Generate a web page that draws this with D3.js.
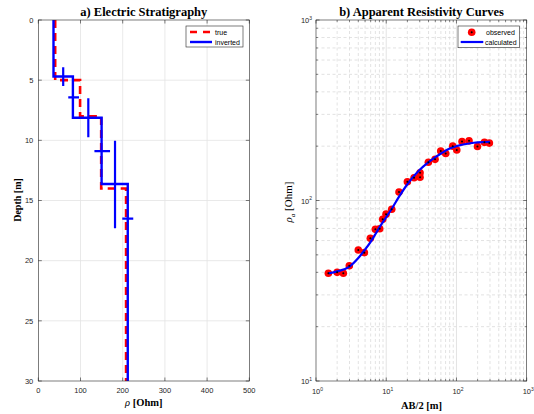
<!DOCTYPE html>
<html><head><meta charset="utf-8">
<script src="https://cdn.jsdelivr.net/npm/d3@7"></script>
<style>body{margin:0;background:#fff}</style></head>
<body><svg id="c" width="534" height="414"></svg>
<script>
// ---- data: left panel ----
const trueDepth = [0, 5, 8, 14, 30];
const trueRho = [40, 99, 149, 208];
const invDepth = [0, 4.7, 8.12, 13.63, 30];
const invRho = [36, 82, 150, 212];
const depthErrBars = [
  {rho: 59, d0: 3.93, d1: 5.49},
  {rho: 118.5, d0: 6.5, d1: 9.75},
  {rho: 181.8, d0: 10.03, d1: 17.3}
];
const rhoErrBars = [
  {depth: 6.43, r0: 71, r1: 96.5},
  {depth: 10.9, r0: 133, r1: 170},
  {depth: 16.5, r0: 199, r1: 225}
];
const rhoTicks = [0, 100, 200, 300, 400, 500];
const depthTicks = [0, 5, 10, 15, 20, 25, 30];

// ---- data: right panel ----
const obsAB2 = [1.5, 2.0, 2.45, 2.98, 4.0, 4.88, 5.94, 7.0, 8.07, 8.9, 9.94, 11.97, 15.2, 20.0,
  24.9, 30.3, 30.3, 39.8, 49.6, 59.7, 70.3, 88.5, 101, 120, 151, 199, 250, 294];
const obsRho = [39.5, 40.0, 39.5, 43.5, 53.2, 51.4, 61.7, 69.2, 69.8, 78.7, 84.0, 89.4, 111.5, 127,
  133.7, 142.6, 134.6, 163, 169, 188, 182, 200, 190.5, 212, 214, 199, 210, 208];
const calcAB2 = [1.5, 2, 3, 4, 5, 6, 7, 8, 10, 12, 15, 20, 25, 30, 40, 50, 60, 80, 100, 150, 200, 300];
const calcRho = [39.5, 40.5, 43, 48, 53.5, 59, 65, 71, 81, 90, 104, 123, 137, 148, 163, 174, 182, 194, 200, 207, 210, 211];
const logTicksX = [1, 10, 100, 1000];
const logTicksY = [10, 100, 1000];

const svg = d3.select("#c");
const axCol = "#262626";
const tickFont = "Liberation Sans, Arial, sans-serif";
const serif = "Liberation Serif, Times New Roman, serif";

// ================= LEFT PANEL =================
const L = {x0: 38.3, x1: 249.3, y0: 20, y1: 381};
const xL = d3.scaleLinear().domain([0, 500]).range([L.x0, L.x1]);
const yL = d3.scaleLinear().domain([0, 30]).range([L.y0, L.y1]);

const gL = svg.append("g");
// grid
gL.selectAll(".gx").data(rhoTicks.slice(1, -1)).join("line")
  .attr("x1", d => xL(d)).attr("x2", d => xL(d)).attr("y1", L.y0).attr("y2", L.y1)
  .attr("stroke", "#e3e3e3").attr("stroke-width", 0.8);
gL.selectAll(".gy").data(depthTicks.slice(1, -1)).join("line")
  .attr("y1", d => yL(d)).attr("y2", d => yL(d)).attr("x1", L.x0).attr("x2", L.x1)
  .attr("stroke", "#e3e3e3").attr("stroke-width", 0.8);

svg.append("defs").html(`<clipPath id="cl"><rect x="${L.x0}" y="${L.y0}" width="${L.x1-L.x0}" height="${L.y1-L.y0}"/></clipPath>`);

function stepPts(depths, rhos) {
  const p = [];
  rhos.forEach((r, i) => { p.push([r, depths[i]]); p.push([r, depths[i + 1]]); });
  return p;
}
const lineL = d3.line().x(d => xL(d[0])).y(d => yL(d[1]));
const gD = gL.append("g").attr("clip-path", "url(#cl)");
gD.append("path").attr("d", lineL(stepPts(trueDepth, trueRho)))
  .attr("fill", "none").attr("stroke", "#ff0000").attr("stroke-width", 2.6)
  .attr("stroke-dasharray", "8,5");
gD.append("path").attr("d", lineL(stepPts(invDepth, invRho)))
  .attr("fill", "none").attr("stroke", "#0000ff").attr("stroke-width", 2.4);
gD.selectAll(".ed").data(depthErrBars).join("line")
  .attr("x1", d => xL(d.rho)).attr("x2", d => xL(d.rho))
  .attr("y1", d => yL(d.d0)).attr("y2", d => yL(d.d1))
  .attr("stroke", "#0000ff").attr("stroke-width", 2.2);
gD.selectAll(".er").data(rhoErrBars).join("line")
  .attr("x1", d => xL(d.r0)).attr("x2", d => xL(d.r1))
  .attr("y1", d => yL(d.depth)).attr("y2", d => yL(d.depth))
  .attr("stroke", "#0000ff").attr("stroke-width", 2.2);

// box + ticks
gL.append("rect").attr("x", L.x0).attr("y", L.y0).attr("width", L.x1 - L.x0).attr("height", L.y1 - L.y0)
  .attr("fill", "none").attr("stroke", axCol).attr("stroke-width", 0.6);
const tk = 3.5;
rhoTicks.forEach(t => {
  gL.append("line").attr("x1", xL(t)).attr("x2", xL(t)).attr("y1", L.y1).attr("y2", L.y1 - tk).attr("stroke", axCol).attr("stroke-width", 0.6);
  gL.append("line").attr("x1", xL(t)).attr("x2", xL(t)).attr("y1", L.y0).attr("y2", L.y0 + tk).attr("stroke", axCol).attr("stroke-width", 0.6);
  gL.append("text").attr("x", xL(t)).attr("y", L.y1 + 12).attr("text-anchor", "middle")
    .attr("font-family", tickFont).attr("font-size", 7.5).attr("fill", axCol).text(t);
});
depthTicks.forEach(t => {
  gL.append("line").attr("x1", L.x0).attr("x2", L.x0 + tk).attr("y1", yL(t)).attr("y2", yL(t)).attr("stroke", axCol).attr("stroke-width", 0.6);
  gL.append("line").attr("x1", L.x1).attr("x2", L.x1 - tk).attr("y1", yL(t)).attr("y2", yL(t)).attr("stroke", axCol).attr("stroke-width", 0.6);
  gL.append("text").attr("x", L.x0 - 5).attr("y", yL(t) + 2.7).attr("text-anchor", "end")
    .attr("font-family", tickFont).attr("font-size", 7.5).attr("fill", axCol).text(t);
});
// title & labels
svg.append("text").attr("x", 143.8).attr("y", 16).attr("text-anchor", "middle")
  .attr("font-family", serif).attr("font-weight", "bold").attr("font-size", 12.5).attr("fill", "#000")
  .text("a) Electric Stratigraphy");
svg.append("text").attr("transform", "translate(21,200) rotate(-90)").attr("text-anchor", "middle")
  .attr("font-family", serif).attr("font-weight", "bold").attr("font-size", 10).attr("fill", "#000")
  .text("Depth [m]");
const xlabL = svg.append("text").attr("x", 143.8).attr("y", 406).attr("text-anchor", "middle")
  .attr("font-family", serif).attr("font-weight", "bold").attr("font-size", 10.5).attr("fill", "#000");
xlabL.append("tspan").attr("font-style", "italic").attr("font-weight", "normal").text("ρ");
xlabL.append("tspan").text(" [Ohm]");

// legend left
const lgL = svg.append("g");
lgL.append("rect").attr("x", 186).attr("y", 26).attr("width", 57).attr("height", 21)
  .attr("fill", "#fff").attr("stroke", axCol).attr("stroke-width", 0.6);
lgL.append("line").attr("x1", 190).attr("x2", 212).attr("y1", 32).attr("y2", 32)
  .attr("stroke", "#ff0000").attr("stroke-width", 2.6).attr("stroke-dasharray", "7,6");
lgL.append("line").attr("x1", 190).attr("x2", 212).attr("y1", 42).attr("y2", 42)
  .attr("stroke", "#0000ff").attr("stroke-width", 2.4);
lgL.append("text").attr("x", 215).attr("y", 34.5).attr("font-family", tickFont).attr("font-size", 7)
  .attr("fill", "#000").text("true");
lgL.append("text").attr("x", 215).attr("y", 44.5).attr("font-family", tickFont).attr("font-size", 7)
  .attr("fill", "#000").text("inverted");

// ================= RIGHT PANEL =================
const R = {x0: 316, x1: 526.7, y0: 20, y1: 381};
const xR = d3.scaleLog().domain([1, 1000]).range([R.x0, R.x1]);
const yR = d3.scaleLog().domain([10, 1000]).range([R.y1, R.y0]);
const gR = svg.append("g");

const minorX = [], minorY = [];
[1, 10, 100].forEach(b => { for (let k = 2; k <= 9; k++) minorX.push(b * k); });
[10, 100].forEach(b => { for (let k = 2; k <= 9; k++) minorY.push(b * k); });

gR.selectAll(".mx").data(minorX).join("line")
  .attr("x1", d => xR(d)).attr("x2", d => xR(d)).attr("y1", R.y0).attr("y2", R.y1)
  .attr("stroke", "#d6d6d6").attr("stroke-width", 0.7).attr("stroke-dasharray", "3,2.5");
gR.selectAll(".my").data(minorY).join("line")
  .attr("y1", d => yR(d)).attr("y2", d => yR(d)).attr("x1", R.x0).attr("x2", R.x1)
  .attr("stroke", "#d6d6d6").attr("stroke-width", 0.7).attr("stroke-dasharray", "3,2.5");
gR.selectAll(".Mx").data(logTicksX.slice(1, -1)).join("line")
  .attr("x1", d => xR(d)).attr("x2", d => xR(d)).attr("y1", R.y0).attr("y2", R.y1)
  .attr("stroke", "#dcdcdc").attr("stroke-width", 0.8);
gR.selectAll(".My").data(logTicksY.slice(1, -1)).join("line")
  .attr("y1", d => yR(d)).attr("y2", d => yR(d)).attr("x1", R.x0).attr("x2", R.x1)
  .attr("stroke", "#dcdcdc").attr("stroke-width", 0.8);

// calculated curve
const lineR = d3.line().x((d, i) => xR(calcAB2[i])).y((d, i) => yR(calcRho[i])).curve(d3.curveMonotoneX);
// observed markers
const obs = obsAB2.map((a, i) => ({a, r: obsRho[i]}));
gR.selectAll(".o").data(obs).join("circle")
  .attr("cx", d => xR(d.a)).attr("cy", d => yR(d.r)).attr("r", 3.8).attr("fill", "#ff0000");
gR.append("path").attr("d", lineR(calcAB2)).attr("fill", "none").attr("stroke", "#0000ff").attr("stroke-width", 2.2);
gR.selectAll(".od").data(obs).join("circle")
  .attr("cx", d => xR(d.a)).attr("cy", d => yR(d.r)).attr("r", 1).attr("fill", "#000");

gR.append("rect").attr("x", R.x0).attr("y", R.y0).attr("width", R.x1 - R.x0).attr("height", R.y1 - R.y0)
  .attr("fill", "none").attr("stroke", axCol).attr("stroke-width", 0.6);
minorX.forEach(t => {
  gR.append("line").attr("x1", xR(t)).attr("x2", xR(t)).attr("y1", R.y1).attr("y2", R.y1 - 2).attr("stroke", axCol).attr("stroke-width", 0.5);
  gR.append("line").attr("x1", xR(t)).attr("x2", xR(t)).attr("y1", R.y0).attr("y2", R.y0 + 2).attr("stroke", axCol).attr("stroke-width", 0.5);
});
minorY.forEach(t => {
  gR.append("line").attr("x1", R.x0).attr("x2", R.x0 + 2).attr("y1", yR(t)).attr("y2", yR(t)).attr("stroke", axCol).attr("stroke-width", 0.5);
  gR.append("line").attr("x1", R.x1).attr("x2", R.x1 - 2).attr("y1", yR(t)).attr("y2", yR(t)).attr("stroke", axCol).attr("stroke-width", 0.5);
});
function powLabel(g, x, y, e, anchor) {
  const t = g.append("text").attr("x", x).attr("y", y).attr("text-anchor", anchor)
    .attr("font-family", tickFont).attr("font-size", 7.5).attr("fill", axCol);
  t.append("tspan").text("10");
  t.append("tspan").attr("font-size", 5).attr("dy", -3.5).text(e);
}
logTicksX.forEach(t => {
  gR.append("line").attr("x1", xR(t)).attr("x2", xR(t)).attr("y1", R.y1).attr("y2", R.y1 - tk).attr("stroke", axCol).attr("stroke-width", 0.6);
  gR.append("line").attr("x1", xR(t)).attr("x2", xR(t)).attr("y1", R.y0).attr("y2", R.y0 + tk).attr("stroke", axCol).attr("stroke-width", 0.6);
  powLabel(gR, xR(t) + 1.5, R.y1 + 13, Math.round(Math.log10(t)), "middle");
});
logTicksY.forEach(t => {
  gR.append("line").attr("x1", R.x0).attr("x2", R.x0 + tk).attr("y1", yR(t)).attr("y2", yR(t)).attr("stroke", axCol).attr("stroke-width", 0.6);
  gR.append("line").attr("x1", R.x1).attr("x2", R.x1 - tk).attr("y1", yR(t)).attr("y2", yR(t)).attr("stroke", axCol).attr("stroke-width", 0.6);
  powLabel(gR, R.x0 - 4, yR(t) + 3, Math.round(Math.log10(t)), "end");
});

svg.append("text").attr("x", 421.5).attr("y", 16).attr("text-anchor", "middle")
  .attr("font-family", serif).attr("font-weight", "bold").attr("font-size", 12.5).attr("fill", "#000")
  .text("b) Apparent Resistivity Curves");
svg.append("text").attr("x", 421.5).attr("y", 409).attr("text-anchor", "middle")
  .attr("font-family", serif).attr("font-weight", "bold").attr("font-size", 10.5).attr("fill", "#000")
  .text("AB/2 [m]");
const ylR = svg.append("text").attr("transform", "translate(292,202) rotate(-90)").attr("text-anchor", "middle")
  .attr("font-family", serif).attr("font-size", 11).attr("fill", "#000");
ylR.append("tspan").attr("font-style", "italic").text("ρ");
ylR.append("tspan").attr("font-size", 7).attr("font-style", "italic").attr("dy", 2.5).text("a");
ylR.append("tspan").attr("dy", -2.5).text(" [Ohm]");

// legend right
const lgR = svg.append("g");
lgR.append("rect").attr("x", 458).attr("y", 26).attr("width", 61.3).attr("height", 21.7)
  .attr("fill", "#fff").attr("stroke", axCol).attr("stroke-width", 0.6);
lgR.append("circle").attr("cx", 471.7).attr("cy", 32.3).attr("r", 3.8).attr("fill", "#ff0000");
lgR.append("circle").attr("cx", 471.7).attr("cy", 32.3).attr("r", 1).attr("fill", "#000");
lgR.append("line").attr("x1", 460.7).attr("x2", 483.3).attr("y1", 42).attr("y2", 42)
  .attr("stroke", "#0000ff").attr("stroke-width", 2.2);
lgR.append("text").attr("x", 486).attr("y", 34.8).attr("font-family", tickFont).attr("font-size", 7)
  .attr("fill", "#000").text("observed");
lgR.append("text").attr("x", 485).attr("y", 44.5).attr("font-family", tickFont).attr("font-size", 7)
  .attr("fill", "#000").text("calculated");
</script></body></html>
